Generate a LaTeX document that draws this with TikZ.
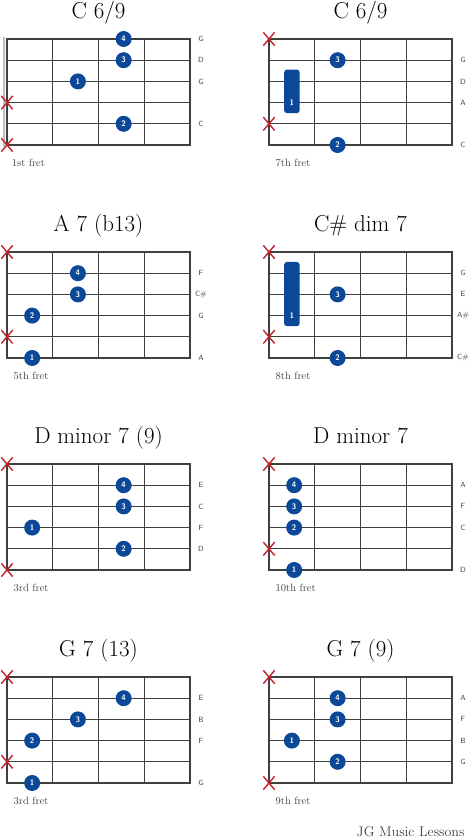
\documentclass[tikz,border=0pt]{standalone}
\usetikzlibrary{shapes.misc}
\definecolor{dotblue}{RGB}{12,72,152}
\definecolor{xred}{RGB}{196,32,44}
\definecolor{fretgray}{RGB}{64,64,64}
\tikzset{
  fretline/.style={fretgray, line width=1.1pt, line cap=rect},
  fingerdot/.style={circle, fill=dotblue, text=white, inner sep=0pt, minimum size=16pt,
    font=\sffamily\bfseries\fontsize{8}{8}\selectfont},
  barre/.style={fill=dotblue, rounded corners=3pt},
  barrenum/.style={text=white, inner sep=0pt, font=\sffamily\bfseries\fontsize{8}{8}\selectfont},
  mutex/.style={cross out, draw=xred, line width=1.4pt, minimum width=10pt, minimum height=12pt, inner sep=0pt},
  notename/.style={font=\sffamily\fontsize{7.5}{8}\selectfont, text=fretgray},
  chordname/.style={anchor=base, inner sep=0pt, font=\fontsize{23}{25}\selectfont},
  fretno/.style={anchor=west, font=\fontsize{10.5}{12}\selectfont, text=fretgray}
}
\begin{document}
\begin{tikzpicture}[x=1pt, y=-1pt]
\useasboundingbox (0,0) rectangle (474,840);
% empty boards: 4 frets, 6 strings
\foreach \gx/\gy in {7/39, 269/39, 7/252, 269/252, 7/464, 269/464, 7/677, 269/677}{
  \begin{scope}[shift={(\gx,\gy)}, x=45.75pt, y=-21.2pt]
    \foreach \s in {0,...,5} \draw[fretline] (0,\s) -- (4,\s);
    \foreach \f in {0,...,4} \draw[fretline] (\f,0) -- (\f,5);
  \end{scope}
}

% C 6/9 (open position)
\begin{scope}[shift={(7,39)}, x=45.75pt, y=-21.2pt]
  \node[chordname] (ca) at (2,-0.97) {C 6/9};
  \draw[gray!50, line width=2.4pt] (-0.07,-0.1) -- (-0.07,5.1); % nut
  \node[fingerdot] (ca4) at (2.55,0) {4};
  \node[fingerdot] (ca3) at (2.55,1) {3};
  \node[fingerdot] (ca1) at (1.55,2) {1};
  \node[fingerdot] (ca2) at (2.55,4) {2};
  \node[mutex] (cax4) at (0,3) {};
  \node[mutex] (cax6) at (0,5) {};
  \node[notename] (can1) at (4.24,0) {G};
  \node[notename] (can2) at (4.24,1) {D};
  \node[notename] (can3) at (4.24,2) {G};
  \node[notename] (can5) at (4.24,4) {C};
  \node[fretno] (caf) at (0.03,5.85) {1st fret};
\end{scope}

% C 6/9 (7th fret)
\begin{scope}[shift={(269,39)}, x=45.75pt, y=-21.2pt]
  \node[chordname] (cb) at (2,-0.97) {C 6/9};
  \fill[barre] (0.33,1.44) rectangle (0.67,3.5);
  \node[barrenum] (cb1) at (0.5,3) {1};
  \node[fingerdot] (cb3) at (1.5,1) {3};
  \node[fingerdot] (cb2) at (1.5,5) {2};
  \node[mutex] (cbx1) at (0,0) {};
  \node[mutex] (cbx5) at (0,4) {};
  \node[notename] (cbn2) at (4.24,1) {G};
  \node[notename] (cbn3) at (4.24,2) {D};
  \node[notename] (cbn4) at (4.24,3) {A};
  \node[notename] (cbn6) at (4.24,5) {C};
  \node[fretno] (cbf) at (0.07,5.85) {7th fret};
\end{scope}

% A 7 (b13)
\begin{scope}[shift={(7,252)}, x=45.75pt, y=-21.2pt]
  \node[chordname] (aa) at (2,-0.95) {A 7 (b13)};
  \node[fingerdot] (aa4) at (1.55,1) {4};
  \node[fingerdot] (aa3) at (1.55,2) {3};
  \node[fingerdot] (aa2) at (0.55,3) {2};
  \node[fingerdot] (aa1) at (0.55,5) {1};
  \node[mutex] (aax1) at (0,0) {};
  \node[mutex] (aax5) at (0,4) {};
  \node[notename] (aan2) at (4.24,1) {F};
  \node[notename] (aan3) at (4.24,2) {C\#};
  \node[notename] (aan4) at (4.24,3) {G};
  \node[notename] (aan6) at (4.24,5) {A};
  \node[fretno] (aaf) at (0.07,5.85) {5th fret};
\end{scope}

% C# dim 7
\begin{scope}[shift={(269,252)}, x=45.75pt, y=-21.2pt]
  \node[chordname] (da) at (2,-0.95) {C\# dim 7};
  \fill[barre] (0.33,0.47) rectangle (0.67,3.5);
  \node[barrenum] (da1) at (0.5,3) {1};
  \node[fingerdot] (da3) at (1.5,2) {3};
  \node[fingerdot] (da2) at (1.5,5) {2};
  \node[mutex] (dax1) at (0,0) {};
  \node[mutex] (dax5) at (0,4) {};
  \node[notename] (dan2) at (4.24,1) {G};
  \node[notename] (dan3) at (4.24,2) {E};
  \node[notename] (dan4) at (4.24,3) {A\#};
  \node[notename] (dan6) at (4.24,5) {C\#};
  \node[fretno] (daf) at (0.07,5.85) {8th fret};
\end{scope}

% D minor 7 (9)
\begin{scope}[shift={(7,464)}, x=45.75pt, y=-21.2pt]
  \node[chordname] (ma) at (2,-0.95) {D minor 7 (9)};
  \node[fingerdot] (ma4) at (2.55,1) {4};
  \node[fingerdot] (ma3) at (2.55,2) {3};
  \node[fingerdot] (ma1) at (0.55,3) {1};
  \node[fingerdot] (ma2) at (2.55,4) {2};
  \node[mutex] (max1) at (0,0) {};
  \node[mutex] (max6) at (0,5) {};
  \node[notename] (man2) at (4.24,1) {E};
  \node[notename] (man3) at (4.24,2) {C};
  \node[notename] (man4) at (4.24,3) {F};
  \node[notename] (man5) at (4.24,4) {D};
  \node[fretno] (maf) at (0.07,5.85) {3rd fret};
\end{scope}

% D minor 7
\begin{scope}[shift={(269,464)}, x=45.75pt, y=-21.2pt]
  \node[chordname] (mb) at (2,-0.95) {D minor 7};
  \node[fingerdot] (mb4) at (0.55,1) {4};
  \node[fingerdot] (mb3) at (0.55,2) {3};
  \node[fingerdot] (mb2) at (0.55,3) {2};
  \node[fingerdot] (mb1) at (0.55,5) {1};
  \node[mutex] (mbx1) at (0,0) {};
  \node[mutex] (mbx5) at (0,4) {};
  \node[notename] (mbn2) at (4.24,1) {A};
  \node[notename] (mbn3) at (4.24,2) {F};
  \node[notename] (mbn4) at (4.24,3) {C};
  \node[notename] (mbn6) at (4.24,5) {D};
  \node[fretno] (mbf) at (0.07,5.85) {10th fret};
\end{scope}

% G 7 (13)
\begin{scope}[shift={(7,677)}, x=45.75pt, y=-21.2pt]
  \node[chordname] (ga) at (2,-0.98) {G 7 (13)};
  \node[fingerdot] (ga4) at (2.55,1) {4};
  \node[fingerdot] (ga3) at (1.55,2) {3};
  \node[fingerdot] (ga2) at (0.55,3) {2};
  \node[fingerdot] (ga1) at (0.55,5) {1};
  \node[mutex] (gax1) at (0,0) {};
  \node[mutex] (gax5) at (0,4) {};
  \node[notename] (gan2) at (4.24,1) {E};
  \node[notename] (gan3) at (4.24,2) {B};
  \node[notename] (gan4) at (4.24,3) {F};
  \node[notename] (gan6) at (4.24,5) {G};
  \node[fretno] (gaf) at (0.07,5.85) {3rd fret};
\end{scope}

% G 7 (9)
\begin{scope}[shift={(269,677)}, x=45.75pt, y=-21.2pt]
  \node[chordname] (gb) at (2,-0.98) {G 7 (9)};
  \node[fingerdot] (gb4) at (1.5,1) {4};
  \node[fingerdot] (gb3) at (1.5,2) {3};
  \node[fingerdot] (gb1) at (0.5,3) {1};
  \node[fingerdot] (gb2) at (1.5,4) {2};
  \node[mutex] (gbx1) at (0,0) {};
  \node[mutex] (gbx6) at (0,5) {};
  \node[notename] (gbn2) at (4.24,1) {A};
  \node[notename] (gbn3) at (4.24,2) {F};
  \node[notename] (gbn4) at (4.24,3) {B};
  \node[notename] (gbn5) at (4.24,4) {G};
  \node[fretno] (gbf) at (0.07,5.85) {9th fret};
\end{scope}

\node[anchor=east, font=\fontsize{14}{16}\selectfont, text=fretgray] (jg) at (468,832) {JG Music Lessons};
\end{tikzpicture}
\end{document}
